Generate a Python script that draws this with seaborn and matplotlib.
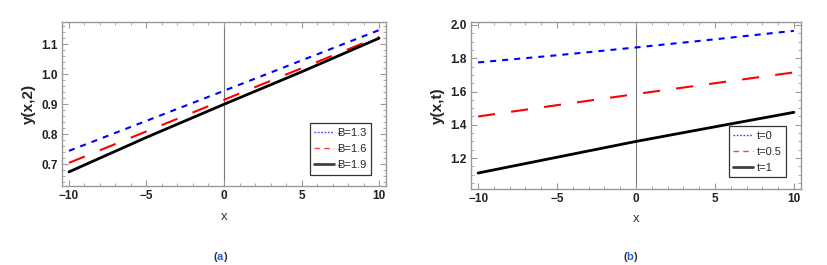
import numpy as np
import pandas as pd
import matplotlib
matplotlib.use("Agg")
import matplotlib.pyplot as plt
import seaborn as sns
from matplotlib.ticker import MultipleLocator

sns.set_theme(style="white")
plt.rcParams['font.family'] = ['Liberation Sans', 'DejaVu Sans']
plt.rcParams['axes.unicode_minus'] = True

# values
x_vals = [-10, -5, 0, 5, 10]

# panel (a): y(x,2) for three values of Ƀ
a_labels = ['Ƀ=1.3', 'Ƀ=1.6', 'Ƀ=1.9']
a_b13 = [0.745, 0.845, 0.945, 1.046, 1.147]
a_b16 = [0.705, 0.810, 0.915, 1.020, 1.125]
a_b19 = [0.675, 0.790, 0.900, 1.008, 1.120]

# panel (b): y(x,t) for three values of t
b_labels = ['t=0', 't=0.5', 't=1']
b_t0 = [1.775, 1.818, 1.865, 1.914, 1.965]
b_t05 = [1.450, 1.518, 1.585, 1.650, 1.715]
b_t1 = [1.110, 1.205, 1.300, 1.388, 1.475]

x_ticks = [-10, -5, 0, 5, 10]

colors = ['#0000ff', '#ff0000', '#000000']
dash_styles = [(2.9, 2.9), (8.2, 7.8), '']
legend_dashes = [(1.2, 1.2), (4, 3), '']
widths = [1.5, 1.5, 2.0]
frame_col = '#9a9a9a'


def make_df(labels, series):
    rows = []
    for lab, ys in zip(labels, series):
        for xv, yv in zip(x_vals, ys):
            rows.append({'x': xv, 'y': yv, 'curve': lab})
    return pd.DataFrame(rows)


def draw_panel(ax, df, labels, ylabel, ylim, ymajor, yminor):
    for lab, c, d, w in zip(labels, colors, dash_styles, widths):
        sub = df[df.curve == lab]
        sns.lineplot(data=sub, x='x', y='y', ax=ax, color=c, lw=w, label=lab)
        if d:
            ax.lines[-1].set_dashes(d)
    ax.axvline(0, color='#777777', lw=0.8, zorder=0)
    ax.set_xticks(x_ticks)
    ax.set_xlim(-10.45, 10.45)
    ax.set_ylim(*ylim)
    ax.xaxis.set_minor_locator(MultipleLocator(1))
    ax.yaxis.set_major_locator(MultipleLocator(ymajor))
    ax.yaxis.set_minor_locator(MultipleLocator(yminor))
    ax.tick_params(which='both', direction='in', top=True, right=True,
                   bottom=True, left=True, color=frame_col)
    ax.tick_params(which='major', length=4, width=0.8, labelsize=8.5, pad=3)
    ax.tick_params(which='minor', length=2, width=0.6)
    for t in ax.get_xticklabels() + ax.get_yticklabels():
        t.set_fontweight('bold')
        t.set_color('#222222')
    for sp in ax.spines.values():
        sp.set_color(frame_col)
        sp.set_linewidth(1.0)
    ax.set_xlabel('x', fontsize=9.5, color='#333333', labelpad=6)
    ax.set_ylabel(ylabel, fontsize=11, fontweight='bold', labelpad=4)
    leg = ax.legend(loc='lower right', fontsize=8, frameon=True, fancybox=False,
                    handlelength=1.8, handletextpad=0.3, borderpad=0.4,
                    labelspacing=0.55, borderaxespad=0.0,
                    bbox_to_anchor=(0.955, 0.07))
    leg.get_frame().set_edgecolor('black')
    leg.get_frame().set_linewidth(0.9)
    for h, d in zip(leg.get_lines(), legend_dashes):
        h.set_alpha(0.75)
        if d:
            h.set_linewidth(1.0)
            h.set_dashes(d)


def caption(fig, xc, letter):
    y = 1 - 257 / 265
    fig.text((xc - 5) / 828, y, '(', ha='center', va='center', fontsize=8,
             fontweight='bold', color='#333333')
    fig.text(xc / 828, y, letter, ha='center', va='center', fontsize=8,
             fontweight='bold', color='#1f5fd0')
    fig.text((xc + 5) / 828, y, ')', ha='center', va='center', fontsize=8,
             fontweight='bold', color='#333333')


df_a = make_df(a_labels, [a_b13, a_b16, a_b19])
df_b = make_df(b_labels, [b_t0, b_t05, b_t1])

fig = plt.figure(figsize=(8.28, 2.65), dpi=100)
ax1 = fig.add_axes([62 / 828, 1 - 186 / 265, 324 / 828, 164 / 265])
ax2 = fig.add_axes([471 / 828, 1 - 189 / 265, 330 / 828, 167 / 265])

draw_panel(ax1, df_a, a_labels, 'y(x,2)', (0.628, 1.174), 0.1, 0.02)
draw_panel(ax2, df_b, b_labels, 'y(x,t)', (1.014, 2.018), 0.2, 0.05)
caption(fig, 220, 'a')
caption(fig, 630, 'b')

fig.savefig('out.png', dpi=100)
